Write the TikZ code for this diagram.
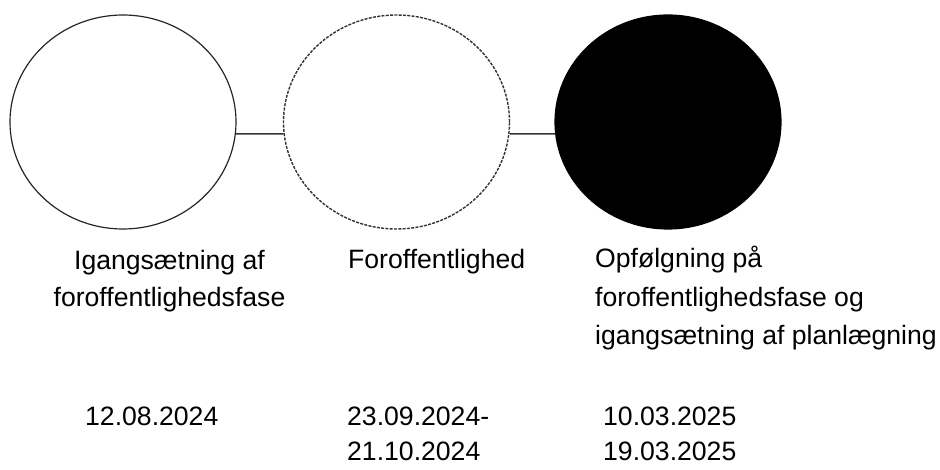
\documentclass[tikz,border=0pt]{standalone}
\usepackage{fontspec}
\setmainfont{Liberation Sans}
\usetikzlibrary{shapes.geometric}
\begin{document}
\begin{tikzpicture}[x=1pt,y=-1pt,
  phase/.style={ellipse, draw=black!85, line width=1.2pt, inner sep=0pt,
    minimum width=226pt, minimum height=214pt},
  tentative/.style={phase, draw=black!80, line width=1.4pt, dash pattern=on 3pt off 1.3pt},
  done/.style={phase, draw=black, fill=black},
  conn/.style={draw=black!80, line width=1.4pt},
  lbl/.style={inner sep=0pt, anchor=base, font=\fontsize{26.6}{37}\selectfont},
]
\useasboundingbox (0,0) rectangle (940,470);
\node[phase] (a) at (123,122) {};
\node[tentative] (b) at (396.5,122) {};
\node[done] (c) at (668,122) {};
\draw[conn] (a.-6.6) -- (b.186.6);
\draw[conn] (b.-6.6) -- (c.186.6);

\node[lbl] (la) at (169.5,270) {\begin{tabular}[t]{@{}c@{}}Igangsætning af\\ foroffentlighedsfase\end{tabular}};
\node[lbl, anchor=base west] (lb) at (348,269) {Foroffentlighed};
\node[lbl, anchor=base west, font=\fontsize{26.6}{38.5}\selectfont] (lc) at (595,268) {\begin{tabular}[t]{@{}l@{}}Opfølgning på\\ foroffentlighedsfase og\\ igangsætning af planlægning\end{tabular}};

\node[lbl, anchor=base west] (da) at (85,425) {12.08.2024};
\node[lbl, anchor=base west, font=\fontsize{26.6}{35}\selectfont] (db) at (347,425) {\begin{tabular}[t]{@{}l@{}}23.09.2024-\\ 21.10.2024\end{tabular}};
\node[lbl, anchor=base west, font=\fontsize{26.6}{35}\selectfont] (dc) at (603,425) {\begin{tabular}[t]{@{}l@{}}10.03.2025\\ 19.03.2025\end{tabular}};
\end{tikzpicture}
\end{document}
